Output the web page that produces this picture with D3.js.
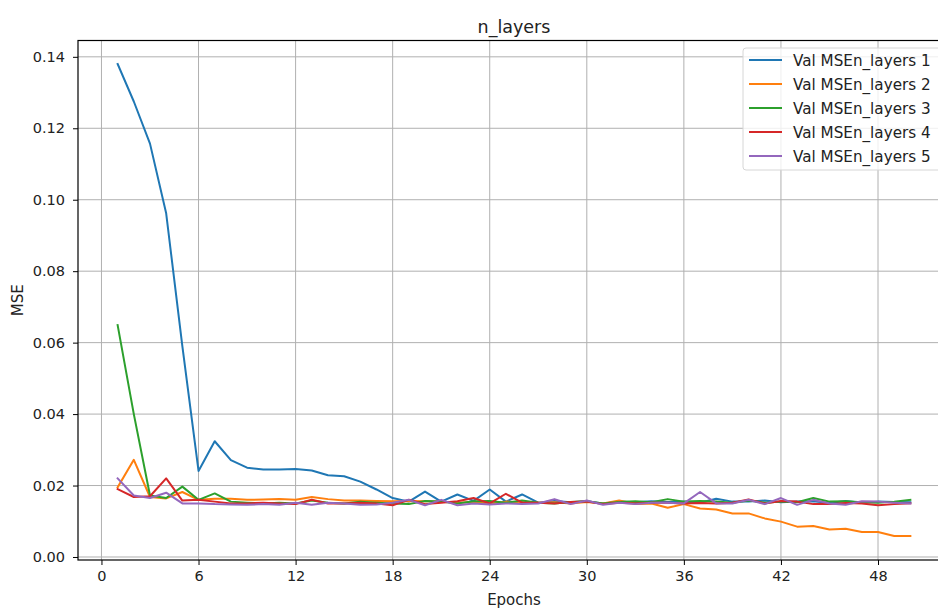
<!DOCTYPE html>
<html>
<head>
<meta charset="utf-8">
<script src="https://cdn.jsdelivr.net/npm/d3@7"></script>
<style>
  html, body { margin: 0; padding: 0; background: #fff; }
  svg { display: block; font-family: "DejaVu Sans", sans-serif; }
</style>
</head>
<body>
<svg id="chart" width="938" height="610"></svg>
<script>
// Validation MSE per epoch for networks with 1..5 layers
const epochs = d3.range(1, 51);
const seriesNames = ["Val MSEn_layers 1", "Val MSEn_layers 2", "Val MSEn_layers 3", "Val MSEn_layers 4", "Val MSEn_layers 5"];
const layers1 = [0.1380, 0.1275, 0.1157, 0.0962, 0.0590, 0.0241, 0.0324, 0.0271, 0.0250, 0.0245,
                 0.0245, 0.0246, 0.0242, 0.0229, 0.0226, 0.0211, 0.0189, 0.0165, 0.0155, 0.0183,
                 0.0155, 0.0175, 0.0157, 0.0189, 0.0155, 0.0175, 0.0152, 0.0157, 0.0153, 0.0156,
                 0.0150, 0.0155, 0.0153, 0.0156, 0.0154, 0.0155, 0.0152, 0.0163, 0.0155, 0.0155,
                 0.0158, 0.0153, 0.0155, 0.0156, 0.0151, 0.0157, 0.0152, 0.0155, 0.0154, 0.0153];
const layers2 = [0.0195, 0.0272, 0.0168, 0.0164, 0.0182, 0.0160, 0.0163, 0.0163, 0.0160, 0.0161,
                 0.0162, 0.0160, 0.0168, 0.0162, 0.0158, 0.0158, 0.0157, 0.0156, 0.0157, 0.0156,
                 0.0155, 0.0152, 0.0154, 0.0150, 0.0155, 0.0153, 0.0152, 0.0153, 0.0150, 0.0154,
                 0.0150, 0.0158, 0.0149, 0.0150, 0.0138, 0.0148, 0.0136, 0.0133, 0.0122, 0.0122,
                 0.0108, 0.0099, 0.0085, 0.0087, 0.0077, 0.0079, 0.0070, 0.0070, 0.0059, 0.0059];
const layers3 = [0.0649, 0.0400, 0.0172, 0.0165, 0.0197, 0.0160, 0.0178, 0.0155, 0.0152, 0.0150,
                 0.0152, 0.0150, 0.0158, 0.0152, 0.0150, 0.0155, 0.0152, 0.0150, 0.0148, 0.0157,
                 0.0155, 0.0150, 0.0156, 0.0157, 0.0152, 0.0158, 0.0152, 0.0150, 0.0154, 0.0156,
                 0.0150, 0.0154, 0.0156, 0.0153, 0.0162, 0.0155, 0.0157, 0.0155, 0.0152, 0.0158,
                 0.0152, 0.0155, 0.0153, 0.0165, 0.0155, 0.0156, 0.0153, 0.0152, 0.0155, 0.0160];
const layers4 = [0.0190, 0.0168, 0.0170, 0.0220, 0.0158, 0.0160, 0.0155, 0.0150, 0.0150, 0.0152,
                 0.0150, 0.0148, 0.0160, 0.0150, 0.0150, 0.0152, 0.0150, 0.0145, 0.0160, 0.0148,
                 0.0152, 0.0156, 0.0165, 0.0150, 0.0177, 0.0152, 0.0152, 0.0150, 0.0154, 0.0155,
                 0.0148, 0.0152, 0.0150, 0.0152, 0.0152, 0.0150, 0.0151, 0.0150, 0.0152, 0.0161,
                 0.0150, 0.0157, 0.0155, 0.0148, 0.0148, 0.0151, 0.0150, 0.0145, 0.0148, 0.0150];
const layers5 = [0.0220, 0.0172, 0.0165, 0.0180, 0.0150, 0.0150, 0.0148, 0.0147, 0.0146, 0.0148,
                 0.0146, 0.0152, 0.0146, 0.0152, 0.0150, 0.0146, 0.0147, 0.0152, 0.0160, 0.0145,
                 0.0160, 0.0145, 0.0150, 0.0147, 0.0150, 0.0148, 0.0150, 0.0162, 0.0148, 0.0158,
                 0.0146, 0.0152, 0.0148, 0.0152, 0.0152, 0.0150, 0.0182, 0.0150, 0.0150, 0.0160,
                 0.0148, 0.0165, 0.0146, 0.0160, 0.0150, 0.0146, 0.0156, 0.0155, 0.0152, 0.0150];
const allSeries = [layers1, layers2, layers3, layers4, layers5];
const colors = ["#1f77b4", "#ff7f0e", "#2ca02c", "#d62728", "#9467bd"];
const xTicks = [0, 6, 12, 18, 24, 30, 36, 42, 48];
const yTicks = [0.00, 0.02, 0.04, 0.06, 0.08, 0.10, 0.12, 0.14];

const svg = d3.select("#chart");
const plotL = 78, plotR = 950, plotT = 40.5, plotB = 560;

const x = d3.scaleLinear().domain([-1.45, 52.45]).range([plotL, plotR]);
const y = d3.scaleLinear().domain([-0.00084, 0.14457]).range([plotB, plotT]);

// grid
const grid = svg.append("g");
grid.selectAll("line.vx").data(xTicks).join("line")
  .attr("x1", d => x(d)).attr("x2", d => x(d))
  .attr("y1", plotT).attr("y2", plotB)
  .attr("stroke", "#b0b0b0").attr("stroke-width", 1);
grid.selectAll("line.hy").data(yTicks).join("line")
  .attr("x1", plotL).attr("x2", plotR)
  .attr("y1", d => y(d)).attr("y2", d => y(d))
  .attr("stroke", "#b0b0b0").attr("stroke-width", 1);

// lines
svg.append("clipPath").attr("id", "plotclip").append("rect")
  .attr("x", plotL).attr("y", plotT).attr("width", plotR - plotL).attr("height", plotB - plotT);
const line = d3.line().x((d, i) => x(epochs[i])).y(d => y(d));
svg.append("g").attr("clip-path", "url(#plotclip)")
  .selectAll("path").data(allSeries).join("path")
  .attr("d", d => line(d))
  .attr("fill", "none")
  .attr("stroke", (d, i) => colors[i])
  .attr("stroke-width", 2)
  .attr("stroke-linejoin", "round")
  .attr("stroke-linecap", "square");

// axes
const xAxis = svg.append("g").attr("transform", `translate(0,${plotB})`)
  .call(d3.axisBottom(x).tickValues(xTicks).tickFormat(d3.format("d")).tickSizeOuter(0).tickSize(5).tickPadding(6));
const yAxis = svg.append("g").attr("transform", `translate(${plotL},0)`)
  .call(d3.axisLeft(y).tickValues(yTicks).tickFormat(d3.format(".2f")).tickSizeOuter(0).tickSize(5).tickPadding(8));
[xAxis, yAxis].forEach(a => {
  a.select(".domain").remove();
  a.selectAll(".tick line").attr("stroke", "#000").attr("stroke-width", 1);
  a.selectAll(".tick text").attr("fill", "#222").style("font-size", "14.5px").style("font-family", "DejaVu Sans");
});

// spines
svg.append("rect")
  .attr("x", plotL).attr("y", plotT).attr("width", plotR - plotL).attr("height", plotB - plotT)
  .attr("fill", "none").attr("stroke", "#000").attr("stroke-width", 1.2);

// title and axis labels
svg.append("text").attr("x", (plotL + plotR) / 2).attr("y", 33)
  .attr("text-anchor", "middle").style("font-size", "17.5px").attr("fill", "#222").text("n_layers");
svg.append("text").attr("x", (plotL + plotR) / 2).attr("y", 605)
  .attr("text-anchor", "middle").style("font-size", "15px").attr("fill", "#222").text("Epochs");
svg.append("text").attr("transform", `translate(23,${(plotT + plotB) / 2}) rotate(-90)`)
  .attr("text-anchor", "middle").style("font-size", "15px").attr("fill", "#222").text("MSE");

// legend
const lg = svg.append("g").attr("transform", "translate(743,48)");
lg.append("rect").attr("x", 0).attr("y", 0).attr("width", 210).attr("height", 122)
  .attr("rx", 3).attr("fill", "#fff").attr("fill-opacity", 0.8)
  .attr("stroke", "#d6d6d6").attr("stroke-width", 1);
const items = lg.selectAll("g.item").data(seriesNames).join("g")
  .attr("transform", (d, i) => `translate(0,${12 + i * 24})`);
items.append("line").attr("x1", 6).attr("x2", 39).attr("y1", 0).attr("y2", 0)
  .attr("stroke", (d, i) => colors[i]).attr("stroke-width", 2);
items.append("text").attr("x", 50).attr("y", 5.5)
  .style("font-size", "15.2px").attr("fill", "#222").text(d => d);
</script>
</body>
</html>
